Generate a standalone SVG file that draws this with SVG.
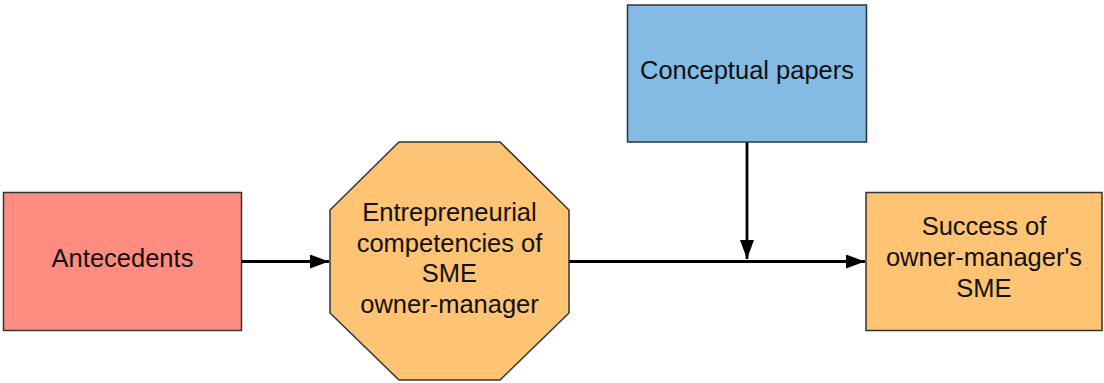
<svg xmlns="http://www.w3.org/2000/svg" width="1104" height="383" viewBox="0 0 1104 383">
  <style>
    .box { stroke: #333333; stroke-width: 1.5; }
    .red { fill: #FF8C80; }
    .orange { fill: #FFC374; }
    .blue { fill: #83BBE5; }
    .label { font-family: "Liberation Sans", Arial, sans-serif; font-size: 25.5px; fill: #111111; text-anchor: middle; }
    .link { stroke: #000000; stroke-width: 2.8; fill: none; }
  </style>
  <defs>
    <marker id="arrow" viewBox="0 0 19 14" refX="19" refY="7" markerWidth="19" markerHeight="14" markerUnits="userSpaceOnUse" orient="auto">
      <path d="M0,0 L19,7 L0,14 Z" fill="#000000"/>
    </marker>
  </defs>
  <rect width="1104" height="383" fill="#FFFFFF"/>

  <g id="connectors">
    <line class="link" x1="242" y1="261.5" x2="329" y2="261.5" marker-end="url(#arrow)"/>
    <line class="link" x1="569" y1="261.5" x2="865" y2="261.5" marker-end="url(#arrow)"/>
    <line class="link" x1="747" y1="142" x2="747" y2="259" marker-end="url(#arrow)"/>
  </g>

  <g id="antecedents">
    <rect class="box red" x="3.5" y="192.5" width="238" height="138"/>
    <text class="label" x="122.5" y="266.5">Antecedents</text>
  </g>

  <g id="competencies">
    <polygon class="box orange" points="399,142 500,142 569,210 569,313 500,380 399,380 330,313 330,210"/>
    <text class="label" x="449.5" y="221">Entrepreneurial</text>
    <text class="label" x="449.5" y="251.5">competencies of</text>
    <text class="label" x="449.5" y="282">SME</text>
    <text class="label" x="449.5" y="312.5">owner-manager</text>
  </g>

  <g id="conceptual-papers">
    <rect class="box blue" x="627.5" y="5" width="239" height="137"/>
    <text class="label" x="747" y="79">Conceptual papers</text>
  </g>

  <g id="success">
    <rect class="box orange" x="866" y="192.5" width="236" height="138"/>
    <text class="label" x="984" y="235">Success of</text>
    <text class="label" x="984" y="266">owner-manager's</text>
    <text class="label" x="984" y="297">SME</text>
  </g>
</svg>
